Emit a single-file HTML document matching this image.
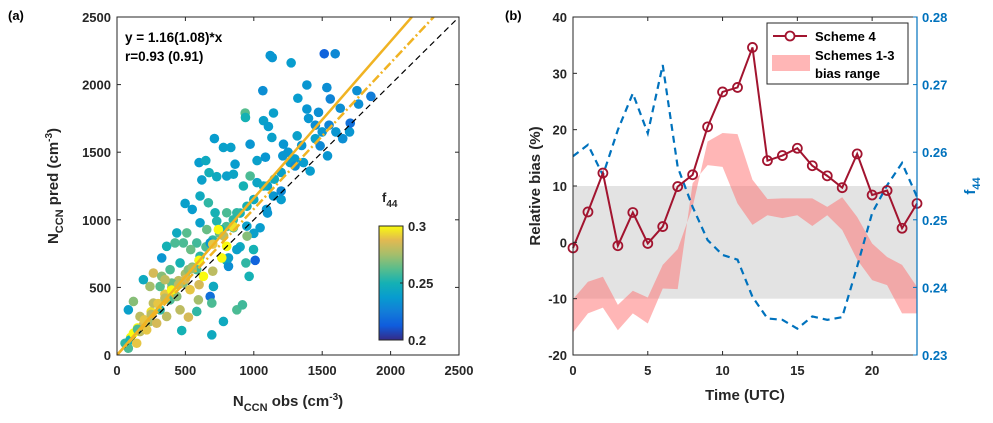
<!DOCTYPE html>
<html><head><meta charset="utf-8"><style>
body{margin:0;background:#fff;}
svg{display:block;font-family:"Liberation Sans",Arial,sans-serif;font-weight:bold;}
</style></head><body>
<svg id="fig" width="993" height="423" viewBox="0 0 993 423"></svg>
<script>
// ---------- Panel (a) data ----------
const scatterObs  = [1120,1135,1273,1515,1595,1066,1388,1534,1322,1754,1856,1766,937,939,1071,1144,1107,1388,1473,1559,1632,1705,1539,1485,1412,712,600,649,778,832,973,1024,1085,1132,1217,1317,1212,1266,1363,1302,620,673,729,802,851,863,973,1024,924,1071,498,550,607,668,717,802,876,607,729,437,510,583,656,754,851,949,1046,1093,1144,1200,327,363,424,485,539,607,681,815,815,876,951,998,1010,942,966,766,741,802,266,327,388,461,522,583,632,705,681,693,583,522,595,876,917,778,693,473,315,241,193,120,83,168,193,241,290,363,388,437,461,315,266,534,485,400,351,59,95,120,168,217,144,83,150,200,250,300,350,400,450,500,550,600,700,780,850,900];
const scatterPred = [2215,2200,2161,2228,2228,1955,1997,1978,1899,1955,1913,1856,1790,1757,1733,1790,1690,1819,1795,1894,1825,1715,1473,1547,1361,1601,1423,1438,1535,1535,1559,1438,1463,1609,1559,1621,1473,1423,1423,1398,1295,1349,1319,1324,1337,1411,1324,1275,1250,1250,1121,1077,1176,1126,1052,1052,1052,978,990,903,903,829,928,928,941,953,941,1077,1176,1213,718,804,829,829,780,730,829,656,718,780,879,780,700,681,582,718,928,804,606,582,631,681,631,631,582,507,433,384,322,280,408,334,371,248,149,181,507,507,557,396,334,285,223,248,235,285,408,433,334,334,384,483,532,532,557,87,111,161,173,186,87,50,190,260,300,380,420,480,520,560,640,700,820,880,950,990];
const scatterF44  = [0.235,0.235,0.238,0.215,0.23,0.232,0.235,0.232,0.238,0.232,0.225,0.232,0.262,0.25,0.24,0.24,0.238,0.235,0.232,0.228,0.232,0.22,0.235,0.23,0.238,0.238,0.238,0.245,0.24,0.24,0.235,0.24,0.235,0.24,0.235,0.24,0.235,0.24,0.238,0.232,0.24,0.248,0.245,0.24,0.242,0.238,0.26,0.242,0.25,0.245,0.24,0.238,0.245,0.255,0.25,0.26,0.255,0.24,0.252,0.245,0.262,0.258,0.265,0.25,0.265,0.24,0.238,0.235,0.235,0.23,0.235,0.25,0.26,0.26,0.265,0.255,0.235,0.232,0.24,0.24,0.27,0.25,0.215,0.255,0.25,0.3,0.3,0.3,0.285,0.27,0.26,0.25,0.27,0.26,0.3,0.245,0.22,0.26,0.255,0.285,0.275,0.26,0.258,0.245,0.245,0.25,0.262,0.275,0.245,0.27,0.24,0.28,0.285,0.275,0.285,0.28,0.26,0.27,0.28,0.255,0.28,0.29,0.27,0.265,0.28,0.255,0.25,0.3,0.28,0.29,0.29,0.26,0.26,0.29,0.28,0.29,0.28,0.3,0.28,0.285,0.275,0.3,0.29,0.28,0.295];
const extraObs  = [1400,1450,1500,1550,1600,1650,1700,1450,1350,1300,1250,1200,1150,1100,1000,950,900,850,800,750,700,650,600,550,500,450,400,350,300,250,200,150,100,1000,1100,1200,900,800,700,600];
const extraPred = [1750,1700,1650,1700,1650,1600,1650,1600,1550,1450,1500,1350,1300,1250,1150,1100,1050,1000,950,900,850,800,700,650,600,550,500,450,380,320,250,200,130,900,1050,1150,800,700,620,520];
const extraF44  = [0.235,0.232,0.235,0.228,0.235,0.232,0.235,0.24,0.235,0.238,0.235,0.24,0.245,0.24,0.245,0.25,0.25,0.255,0.26,0.265,0.255,0.26,0.265,0.27,0.275,0.28,0.285,0.29,0.29,0.295,0.29,0.3,0.3,0.24,0.235,0.238,0.245,0.25,0.28,0.285];
const slopeAll = 1.16, slopeAlt = 1.08;
const aTicks = [0,500,1000,1500,2000,2500];
const cbTicks = [0.2,0.25,0.3];

// ---------- Panel (b) data ----------
const hours = [0,1,2,3,4,5,6,7,8,9,10,11,12,13,14,15,16,17,18,19,20,21,22,23];
const scheme4 = [-1.0,5.4,12.3,-0.6,5.3,-0.2,2.8,9.9,12.0,20.5,26.7,27.5,34.6,14.5,15.4,16.7,13.6,11.8,9.7,15.7,8.4,9.2,2.5,6.9];
const bandUpper = [-10.1,-7.0,-6.1,-11.1,-8.6,-9.8,-4.0,-1.2,6.3,17.9,19.4,19.2,11.1,7.7,7.8,7.8,7.8,6.3,8.0,4.5,-0.2,-2.6,-4.0,-7.9];
const bandLower = [-16.0,-12.6,-11.6,-15.6,-12.6,-14.4,-8.2,-8.3,10.5,13.7,13.4,6.9,3.1,4.8,4.3,4.8,2.9,4.8,2.2,-3.1,-6.7,-7.6,-12.6,-12.6];
const f44 = [0.2594,0.2611,0.2566,0.2633,0.2687,0.2628,0.2729,0.2578,0.2519,0.2470,0.2448,0.2441,0.2386,0.2354,0.2352,0.2339,0.2357,0.2352,0.2356,0.2431,0.2510,0.2551,0.2584,0.2534];
const bLeftTicks = [-20,-10,0,10,20,30,40];
const bRightTicks = [0.23,0.24,0.25,0.26,0.27,0.28];
const bXTicks = [0,5,10,15,20];

const NS="http://www.w3.org/2000/svg";
const svg=document.getElementById('fig');
function mk(tag,attrs,parent){const e=document.createElementNS(NS,tag);for(const k in attrs)e.setAttribute(k,attrs[k]);(parent||svg).appendChild(e);return e;}
function txt(s,attrs,parent){const e=mk('text',attrs,parent);e.textContent=s;return e;}

const parula=[[53,42,135],[15,92,221],[18,125,216],[7,156,207],[21,177,180],[89,189,140],[165,190,107],[225,185,82],[249,251,14]];
function pcol(v){if(!(v>=0))v=0.25;let t=Math.max(0,Math.min(1,(v-0.2)/0.1))*8;let i=Math.min(7,Math.floor(t)),f=t-i;const a=parula[i],b=parula[i+1];
return 'rgb('+a.map((c,j)=>Math.round(c+(b[j]-c)*f)).join(',')+')';}

// ===== Panel A =====
const AL=117,AR=459,AT=17,AB=355;
const ax=v=>AL+v*(AR-AL)/2500, ay=v=>AB-v*(AB-AT)/2500;
const gA=mk('g',{});


const clipA=mk('clipPath',{id:'clipA'});mk('rect',{x:AL,y:AT,width:AR-AL,height:AB-AT},clipA);
const pts=mk('g',{'clip-path':'url(#clipA)'},gA);


function drawPts(O,P,F){
  const n=Math.min(O.length,P.length,F.length);
  for(let i=0;i<n;i++){
    const c=mk('circle',{cx:ax(O[i]),cy:ay(P[i]),r:4.8,fill:pcol(F[i])},pts);
    
    
  }
}
drawPts(extraObs,extraPred,extraF44);
drawPts(scatterObs,scatterPred,scatterF44);
const l1=mk('line',{x1:ax(0),y1:ay(0),x2:ax(2500),y2:ay(2500),stroke:'#000','stroke-width':1.2,'stroke-dasharray':'6,4','clip-path':'url(#clipA)'},gA);

const l2=mk('line',{x1:ax(0),y1:ay(0),x2:ax(2500/slopeAlt),y2:ay(2500),stroke:'#f0b323','stroke-width':2.5,'stroke-dasharray':'9,3,2,3','clip-path':'url(#clipA)'},gA);

const l3=mk('line',{x1:ax(0),y1:ay(0),x2:ax(2500/slopeAll),y2:ay(2500),stroke:'#f0b323','stroke-width':2.5,'clip-path':'url(#clipA)'},gA);

mk('rect',{x:AL,y:AT,width:AR-AL,height:AB-AT,fill:'none',stroke:'#262626','stroke-width':1},gA);
aTicks.forEach(t=>{
  mk('line',{x1:ax(t),y1:AB,x2:ax(t),y2:AB-4,stroke:'#262626'},gA);
  mk('line',{x1:ax(t),y1:AT,x2:ax(t),y2:AT+4,stroke:'#262626'},gA);
  mk('line',{x1:AL,y1:ay(t),x2:AL+4,y2:ay(t),stroke:'#262626'},gA);
  mk('line',{x1:AR,y1:ay(t),x2:AR-4,y2:ay(t),stroke:'#262626'},gA);
  const xl=txt(String(t),{x:ax(t),y:AB+20,'text-anchor':'middle','font-size':13,fill:'#262626'},gA);
  
  const yl=txt(String(t),{x:AL-6,y:ay(t)+5,'text-anchor':'end','font-size':13,fill:'#262626'},gA);
  
});
// colorbar
const CBX=379,CBW=24,CBT=226,CBB=340;
const grad=mk('linearGradient',{id:'par',x1:0,y1:1,x2:0,y2:0});
for(let i=0;i<=8;i++){mk('stop',{offset:i/8,'stop-color':pcol(0.2+i*0.0125)},grad);}
const cb=mk('rect',{x:CBX,y:CBT,width:CBW,height:CBB-CBT,fill:'url(#par)',stroke:'#262626','stroke-width':1},gA);

cbTicks.forEach(t=>{const y=CBB-(t-0.2)/0.1*(CBB-CBT);
  mk('line',{x1:CBX+CBW,y1:y,x2:CBX+CBW-3,y2:y,stroke:'#262626'},gA);
  txt(String(t),{x:CBX+CBW+5,y:y+5,'font-size':13,fill:'#262626'},gA);});
</script>
<script>
(function(){
const t1=txt('',{x:382,y:202,'font-size':13,fill:'#262626'});t1.innerHTML='f<tspan dy="5" font-size="10">44</tspan>';

const e1=txt('y = 1.16(1.08)*x',{x:125,y:42,'font-size':13.5,fill:'#000'});

const e2=txt('r=0.93 (0.91)',{x:125,y:61,'font-size':13.5,fill:'#000'});

const ya=txt('',{transform:'translate(58,186) rotate(-90)','text-anchor':'middle','font-size':15,fill:'#262626'});
ya.innerHTML='N<tspan dy="5" font-size="11">CCN</tspan><tspan dy="-5"> pred (cm</tspan><tspan dy="-6" font-size="10">-3</tspan><tspan dy="6">)</tspan>';

const xa=txt('',{x:288,y:406,'text-anchor':'middle','font-size':15,fill:'#262626'});
xa.innerHTML='N<tspan dy="5" font-size="11">CCN</tspan><tspan dy="-5"> obs (cm</tspan><tspan dy="-6" font-size="10">-3</tspan><tspan dy="6">)</tspan>';

const pa=txt('(a)',{x:8,y:20,'font-size':13,fill:'#000'});
const pb=txt('(b)',{x:505,y:20,'font-size':13,fill:'#000'});

// ===== Panel B =====
const BL=573,BR=917,BT=17,BB=355;
const bx=h=>BL+h*(BR-BL)/23, by=v=>BB-(v+20)*(BB-BT)/60, byr=v=>BB-(v-0.23)*(BB-BT)/0.05;
const gB=mk('g',{});

const band0=mk('rect',{x:BL,y:by(10),width:BR-BL,height:by(-10)-by(10),fill:'#e3e3e3'},gB);

let d='';hours.forEach((h,i)=>{d+=(i?'L':'M')+bx(h)+','+by(bandUpper[i]);});
for(let i=hours.length-1;i>=0;i--)d+='L'+bx(hours[i])+','+by(bandLower[i]);
const bp=mk('path',{d:d+'Z',fill:'rgba(255,110,110,0.5)'},gB);

const fp=mk('polyline',{points:hours.map((h,i)=>bx(h)+','+byr(f44[i])).join(' '),fill:'none',stroke:'#0072bd','stroke-width':2.2,'stroke-dasharray':'7,5'},gB);

const sp=mk('polyline',{points:hours.map((h,i)=>bx(h)+','+by(scheme4[i])).join(' '),fill:'none',stroke:'#a2142f','stroke-width':2},gB);

hours.forEach((h,i)=>{const c=mk('circle',{cx:bx(h),cy:by(scheme4[i]),r:4.5,fill:'none',stroke:'#a2142f','stroke-width':1.8},gB);
});
mk('rect',{x:BL,y:BT,width:BR-BL,height:BB-BT,fill:'none',stroke:'#262626'},gB);
mk('line',{x1:BR,y1:BT,x2:BR,y2:BB,stroke:'#0072bd','stroke-width':1.2},gB);
bLeftTicks.forEach(t=>{mk('line',{x1:BL,y1:by(t),x2:BL+4,y2:by(t),stroke:'#262626'},gB);
  const l=txt(String(t),{x:BL-6,y:by(t)+5,'text-anchor':'end','font-size':13,fill:'#262626'},gB);
  });
bRightTicks.forEach(t=>{mk('line',{x1:BR,y1:byr(t),x2:BR-4,y2:byr(t),stroke:'#0072bd'},gB);
  const l=txt(t.toFixed(2),{x:BR+5,y:byr(t)+5,'font-size':13,fill:'#0072bd'},gB);
  });
bXTicks.forEach(t=>{mk('line',{x1:bx(t),y1:BB,x2:bx(t),y2:BB-4,stroke:'#262626'},gB);mk('line',{x1:bx(t),y1:BT,x2:bx(t),y2:BT+4,stroke:'#262626'},gB);
  const l=txt(String(t),{x:bx(t),y:BB+20,'text-anchor':'middle','font-size':13,fill:'#262626'},gB);
  });
const yb=txt('Relative bias (%)',{transform:'translate(540,186) rotate(-90)','text-anchor':'middle','font-size':15,fill:'#262626'});

const xb=txt('Time (UTC)',{x:745,y:400,'text-anchor':'middle','font-size':15,fill:'#262626'});

const rb=txt('',{transform:'translate(975,186) rotate(-90)','text-anchor':'middle','font-size':15,fill:'#0072bd'});
rb.innerHTML='f<tspan dy="5" font-size="11">44</tspan>';

// legend
const lg=mk('g',{});

mk('rect',{x:767,y:23,width:141,height:61,fill:'#fff',stroke:'#262626'},lg);
mk('line',{x1:773,y1:36,x2:807,y2:36,stroke:'#a2142f','stroke-width':2},lg);
mk('circle',{cx:790,cy:36,r:4.5,fill:'#fff',stroke:'#a2142f','stroke-width':1.8},lg);
txt('Scheme 4',{x:815,y:41,'font-size':13,fill:'#000'},lg);
mk('rect',{x:772,y:55,width:38,height:16,fill:'rgba(255,110,110,0.5)'},lg);
txt('Schemes 1-3',{x:815,y:60,'font-size':13,fill:'#000'},lg);
txt('bias range',{x:815,y:78,'font-size':13,fill:'#000'},lg);
})();
</script>
</body></html>
